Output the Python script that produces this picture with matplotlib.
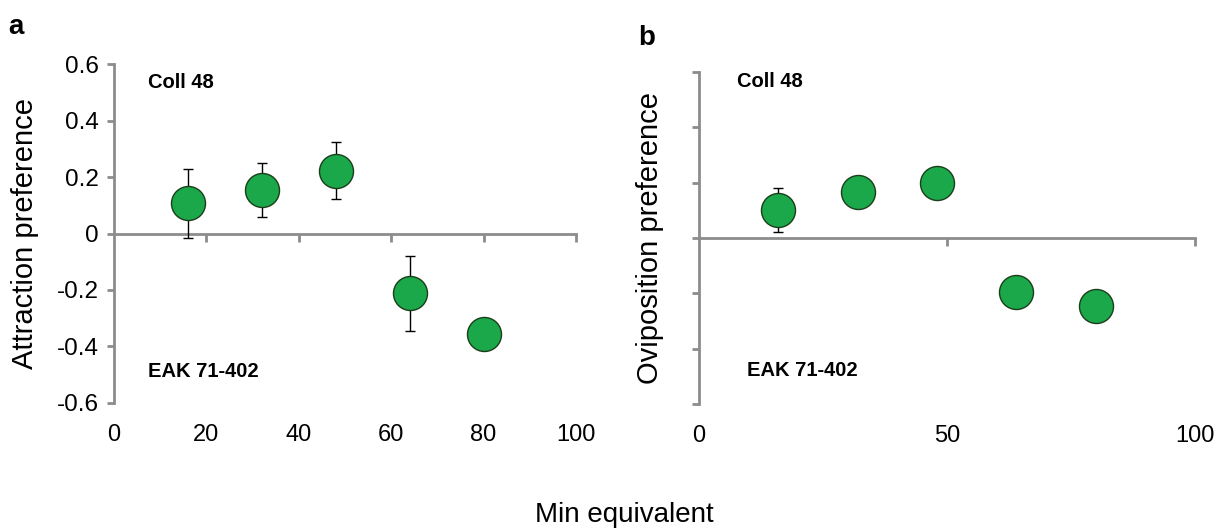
import numpy as np
import matplotlib
matplotlib.use("Agg")
import matplotlib.pyplot as plt

plt.rcParams["font.family"] = ["Liberation Sans", "DejaVu Sans"]

# panel a: attraction preference
x_a = [16, 32, 48, 64, 80]
y_a = [0.107, 0.153, 0.223, -0.212, -0.355]
err_a = [0.123, 0.095, 0.100, 0.133, 0.0]

# panel b: oviposition preference
x_b = [16, 32, 48, 64, 80]
y_b = [0.100, 0.165, 0.200, -0.195, -0.245]
err_b = [0.080, 0.0, 0.0, 0.0, 0.0]

GREEN = "#1BA84A"
GREY = "#8C8C8C"

fig = plt.figure(figsize=(12.25, 5.29), dpi=100)
ax_a = fig.add_axes([0.0931, 0.2382, 0.3771, 0.6408])
ax_b = fig.add_axes([0.5706, 0.2363, 0.4049, 0.6276])


def style(ax, xticks, ylabels):
    ax.set_xlim(0, 100)
    ax.set_ylim(-0.6, 0.6)
    for s in ("top", "right"):
        ax.spines[s].set_visible(False)
    ax.spines["left"].set_color(GREY)
    ax.spines["left"].set_linewidth(2.0)
    ax.spines["bottom"].set_position(("data", 0))
    ax.spines["bottom"].set_color(GREY)
    ax.spines["bottom"].set_linewidth(2.0)
    ax.set_yticks(np.arange(-0.6, 0.61, 0.2))
    if ylabels:
        ax.set_yticklabels(["-0.6", "-0.4", "-0.2", "0", "0.2", "0.4", "0.6"])
    else:
        ax.set_yticklabels([])
    ax.tick_params(axis="y", length=5, width=2, color=GREY, labelsize=17.5, pad=6)
    ax.set_xticks(xticks)
    ax.tick_params(axis="x", length=6, width=2, color=GREY, labelbottom=False)
    # tick labels sit at the bottom of the plot, below the zero line
    sec = ax.secondary_xaxis(0.0)
    sec.set_xticks([0] + list(xticks))
    sec.spines["bottom"].set_visible(False)
    sec.tick_params(axis="x", length=0, labelsize=17, pad=15)
    ax.patch.set_alpha(0)


style(ax_a, [20, 40, 60, 80, 100], True)
style(ax_b, [50, 100], False)

for ax, xs, ys, es in [(ax_a, x_a, y_a, err_a), (ax_b, x_b, y_b, err_b)]:
    ax.errorbar(xs, ys, yerr=es, fmt="none", ecolor="black", elinewidth=1.0,
                capsize=3.3, capthick=1.0, zorder=3)
    ax.plot(xs, ys, ls="none", marker="o", ms=24.5, mfc=GREEN, mec="#1a3d1a",
            mew=1.0, zorder=4, clip_on=False)

ax_a.set_ylabel("Attraction preference", fontsize=21, labelpad=13)
ax_b.set_ylabel("Oviposition preference", fontsize=21, labelpad=14)

ax_a.text(7.4, 0.533, "Coll 48", fontsize=14.5, fontweight="bold", va="center")
ax_a.text(7.4, -0.488, "EAK 71-402", fontsize=14.5, fontweight="bold", va="center")
ax_b.text(7.6, 0.566, "Coll 48", fontsize=14.5, fontweight="bold", va="center")
ax_b.text(9.6, -0.479, "EAK 71-402", fontsize=14.5, fontweight="bold", va="center")

fig.text(0.007, 0.949, "a", fontsize=20, fontweight="bold", va="center")
fig.text(0.521, 0.928, "b", fontsize=20, fontweight="bold", va="center")
fig.text(0.510, 0.026, "Min equivalent", fontsize=20, ha="center", va="center")

fig.savefig("out.png", dpi=100)
